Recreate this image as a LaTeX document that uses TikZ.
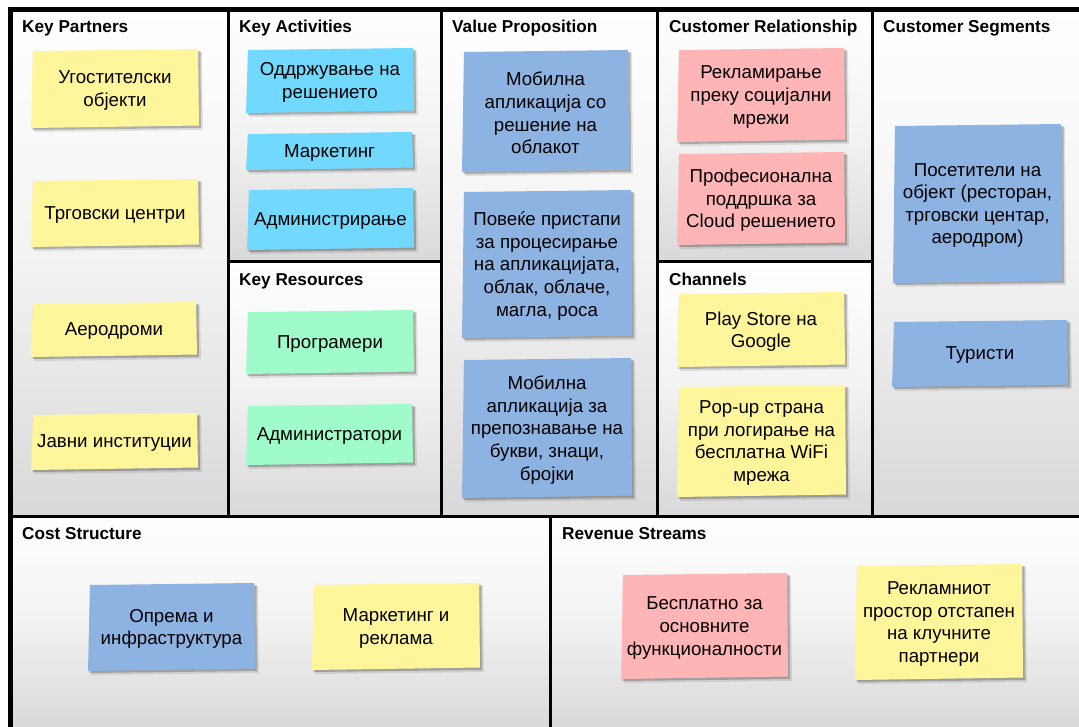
\documentclass[tikz,border=0pt]{standalone}
\usepackage{fontspec}
\setmainfont{Liberation Sans}
\definecolor{noteyellow}{HTML}{FFF69C}
\definecolor{notecyan}{HTML}{70D9FD}
\definecolor{notegreen}{HTML}{9FFBC9}
\definecolor{noteblue}{HTML}{8DB3E2}
\definecolor{notepink}{HTML}{FFB4B6}
\tikzset{
  celltitle/.style={anchor=base west, inner sep=0pt, font=\bfseries\fontsize{17.2}{20}\selectfont},
  notetext/.style={inner sep=0pt, align=center, font=\fontsize{18.7}{22.6}\selectfont},
  cellfill/.style={top color=white, bottom color=black!15, middle color=black!5},
  frameline/.style={line width=3pt},
  outerline/.style={line width=4.5pt},
}
% sticky note: name, x1, y1, x2, y2, colour, text
\newcommand\canvasnote[7]{%
  \fill[black,opacity=.10] ({#2+3},{#3+6}) -- ({#4+3},{#3+3}) -- ({#4+4},{#5+2}) -- ({#2+3},{#5+4}) -- cycle;
  \fill[black,opacity=.22] ({#2+2},{#3+5}) -- ({#4+1.5},{#3+2}) -- ({#4+2},{#5}) -- ({#2+1.5},{#5+2}) -- cycle;
  \fill[#6] ({#2+2},{#3+2}) -- ({#4-1},{#3}) -- ({#4},{#5-2.5}) -- ({#2},{#5}) -- cycle;
  \node[notetext] (#1) at ({(#2+#4)/2},{(#3+#5)/2+2}) {#7};
}
\begin{document}
\begin{tikzpicture}[x=1pt,y=-1pt]
\useasboundingbox (0,0) rectangle (1079,727);
\fill[white] (0,0) rectangle (1079,727);

% cell backgrounds
\shade[cellfill] (11,10) rectangle (228,516);
\shade[cellfill] (228,10) rectangle (441,262);
\shade[cellfill] (228,262) rectangle (441,516);
\shade[cellfill] (441,10) rectangle (657,516);
\shade[cellfill] (657,10) rectangle (872,262);
\shade[cellfill] (657,262) rectangle (872,516);
\shade[cellfill] (872,10) rectangle (1079,516);
\shade[cellfill] (11,516) rectangle (550,727);
\shade[cellfill] (550,516) rectangle (1079,727);

% grid lines
\draw[frameline] (228,10) -- (228,516);
\draw[frameline] (441,10) -- (441,516);
\draw[frameline] (657,10) -- (657,516);
\draw[frameline] (872,10) -- (872,516);
\draw[frameline] (228,262) -- (441,262);
\draw[frameline] (657,262) -- (872,262);
\draw[frameline] (11,516) -- (1079,516);
\draw[frameline] (550,516) -- (550,727);
\draw[outerline] (10.5,727) -- (10.5,9.5) -- (1079,9.5);

% cell titles
\node[celltitle] (tKP) at (22,32.5) {Key Partners};
\node[celltitle] (tKA) at (239,32.5) {Key Activities};
\node[celltitle] (tKR) at (239,285.5) {Key Resources};
\node[celltitle] (tVP) at (452,32.5) {Value Proposition};
\node[celltitle] (tCR) at (669,32.5) {Customer Relationship};
\node[celltitle] (tCH) at (669,285.5) {Channels};
\node[celltitle] (tCS) at (883,32.5) {Customer Segments};
\node[celltitle] (tCost) at (22,539) {Cost Structure};
\node[celltitle] (tRev) at (562,539) {Revenue Streams};

% key partners
\canvasnote{p1}{31}{49}{199}{128}{noteyellow}{Угостителски\\објекти}
\canvasnote{p2}{31}{179}{199}{247}{noteyellow}{Трговски центри}
\canvasnote{p3}{31}{302}{197}{357}{noteyellow}{Аеродроми}
\canvasnote{p4}{31}{413}{198}{470}{noteyellow}{Јавни институции}

% key activities
\canvasnote{a1}{246}{48}{414}{113}{notecyan}{Оддржување на\\решението}
\canvasnote{a2}{246}{132}{413}{170}{notecyan}{Маркетинг}
\canvasnote{a3}{247}{188}{414}{250}{notecyan}{Администрирање}

% key resources
\canvasnote{r1}{246}{310}{414}{374}{notegreen}{Програмери}
\canvasnote{r2}{246}{404}{413}{465}{notegreen}{Администратори}

% value proposition
\canvasnote{v1}{462}{50}{629}{172}{noteblue}{Мобилна\\апликација со\\решение на\\облакот}
\canvasnote{v2}{462}{190}{632}{338}{noteblue}{Повеќе пристапи\\за процесирање\\на апликацијата,\\облак, облаче,\\магла, роса}
\canvasnote{v3}{462}{358}{632}{498}{noteblue}{Мобилна\\апликација за\\препознавање на\\букви, знаци,\\бројки}

% customer relationship
\canvasnote{c1}{677}{48}{845}{142}{notepink}{Рекламирање\\преку социјални\\мрежи}
\canvasnote{c2}{677}{152}{845}{245}{notepink}{Професионална\\поддршка за\\Cloud решението}

% channels
\canvasnote{h1}{677}{292}{845}{367}{noteyellow}{Play Store на\\Google}
\canvasnote{h2}{677}{385}{846}{497}{noteyellow}{Pop-up страна\\при логирање на\\бесплатна WiFi\\мрежа}

% customer segments
\canvasnote{s1}{893}{124}{1062}{283}{noteblue}{Посетители на\\објект (ресторан,\\трговски центар,\\аеродром)}
\canvasnote{s2}{892}{320}{1068}{387}{noteblue}{Туристи}

% cost structure
\canvasnote{k1}{88}{583}{255}{671}{noteblue}{Опрема и\\инфраструктура}
\canvasnote{k2}{312}{583}{480}{670}{noteyellow}{Маркетинг и\\реклама}

% revenue streams
\canvasnote{e1}{621}{573}{788}{679}{notepink}{Бесплатно за\\основните\\функционалности}
\canvasnote{e2}{855}{564}{1023}{680}{noteyellow}{Рекламниот\\простор отстапен\\на клучните\\партнери}
\end{tikzpicture}
\end{document}
